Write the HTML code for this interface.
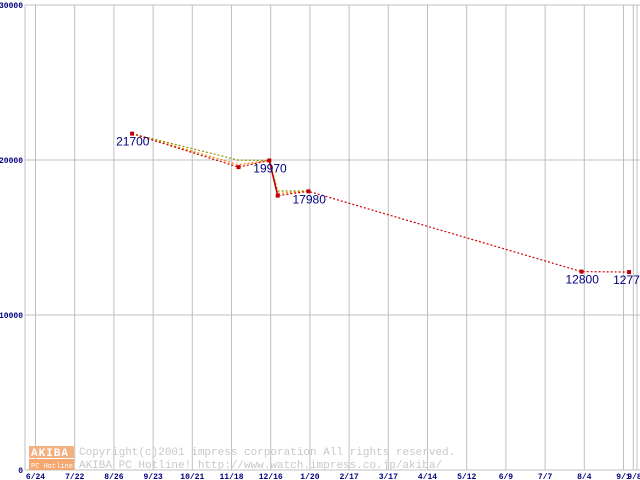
<!DOCTYPE html>
<html><head><meta charset="utf-8"><style>
body{margin:0;background:#fff;}
svg{display:block;font-family:"Liberation Mono",monospace;}
</style></head><body>
<svg id="chartsvg" width="640" height="480" xmlns="http://www.w3.org/2000/svg">
<g id="gridg"></g>
<g id="wmg">
<rect x="29" y="446" width="45" height="12" fill="#f4b080"/>
<rect x="29" y="459" width="45" height="11" fill="#f4a870"/>
<text x="31" y="456" font-size="11" fill="#fff" font-weight="bold" letter-spacing="1">AKIBA</text>
<text x="31" y="468" font-size="7" fill="#fff">PC Hotline!</text>
<text x="79" y="455" font-size="11" fill="#c8c8c8">Copyright(c)2001 impress corporation All rights reserved.</text>
<text x="79" y="468" font-size="11" fill="#c8c8c8">AKIBA PC Hotline!  http://www.watch.impress.co.jp/akiba/</text>
</g>
<g id="seriesg"></g>
<g id="labelsg"></g>
</svg>
<script>
var xTickLabels=["6/24","7/22","8/26","9/23","10/21","11/18","12/16","1/20","2/17","3/17","4/14","5/12","6/9","7/7","8/4","9/1","9/8"];
var xTickDays=[0,28,56,84,112,140,168,196,224,252,280,308,336,364,392,420,427];
var yTicks=[0,10000,20000,30000];
var redDays=[69,145,167,173,195,390,424];
var redVals=[21700,19540,19970,17700,17980,12800,12770];
var orangeDays=[69,145,167,173,195];
var orangeVals=[21700,19700,19970,17850,17980];
var oliveDays=[69,145,167,173,195];
var oliveVals=[21700,19990,19970,18000,18000];
var labelDays=[69,167,195,390,424];
var labelVals=[21700,19970,17980,12800,12770];
var SVGNS="http://www.w3.org/2000/svg";
function px(d){return 35.5+d*1.4;}
function py(v){return 470-v*0.0155;}
function mk(tag,attrs,parent){var e=document.createElementNS(SVGNS,tag);for(var k in attrs){e.setAttribute(k,String(attrs[k]));}parent.appendChild(e);return e;}
var gridG=document.getElementById('gridg');
mk('line',{x1:25,y1:5,x2:25,y2:470,stroke:'#c0c0c0'},gridG);
mk('line',{x1:637,y1:5,x2:637,y2:470,stroke:'#c0c0c0'},gridG);
for(var i=0;i<yTicks.length;i++){
 var v=yTicks[i];
 var gl=mk('line',{x1:25,y1:py(v),x2:640,y2:py(v),stroke:'#c0c0c0'},gridG);
 
 
 var yt=mk('text',{x:23,y:py(v)+3,'font-size':8,fill:'#000080','text-anchor':'end','font-weight':'bold'},gridG);
 yt.textContent=String(v);
 
 
}
for(var j=0;j<xTickDays.length;j++){
 var d=xTickDays[j];
 var xl=mk('line',{x1:px(d),y1:5,x2:px(d),y2:470,stroke:'#c0c0c0'},gridG);
 
 
 var last=(j==xTickDays.length-1);
 var xt=mk('text',{x:px(d)-(last?6:0),y:479,'font-size':8,fill:'#000080','font-weight':'bold','text-anchor':last?'start':'middle'},gridG);
 xt.textContent=xTickLabels[j];
 
 
}
var serG=document.getElementById('seriesg');
function drawSeries(days,vals,color,name){
 var pts=[];
 for(var k=0;k<days.length;k++){pts.push(px(days[k])+','+py(vals[k]));}
 var p=mk('polyline',{points:pts.join(' '),fill:'none',stroke:color,'stroke-width':1.2,'stroke-dasharray':'2,2'},serG);
 
 
}
drawSeries(oliveDays,oliveVals,'#909000','series-olive');
drawSeries(orangeDays,orangeVals,'#f08000','series-orange');
drawSeries(redDays,redVals,'#d00000','series-red');
var drop=mk('line',{x1:px(redDays[2]),y1:py(redVals[2]),x2:px(redDays[3]),y2:py(redVals[3]),stroke:'#c00000','stroke-width':1.5},serG);


for(var m=0;m<redDays.length;m++){
 var r=mk('rect',{x:px(redDays[m])-2,y:py(redVals[m])-2,width:4,height:4,fill:'#c00000'},serG);
 
 
}
var labG=document.getElementById('labelsg');
for(var n=0;n<labelDays.length;n++){
 var t=mk('text',{x:px(labelDays[n])-16,y:py(labelVals[n])+12,'font-size':12,fill:'#000080','font-family':'Liberation Sans, sans-serif'},labG);
 t.textContent=String(labelVals[n]);
 
 
}
</script>
</body></html>
